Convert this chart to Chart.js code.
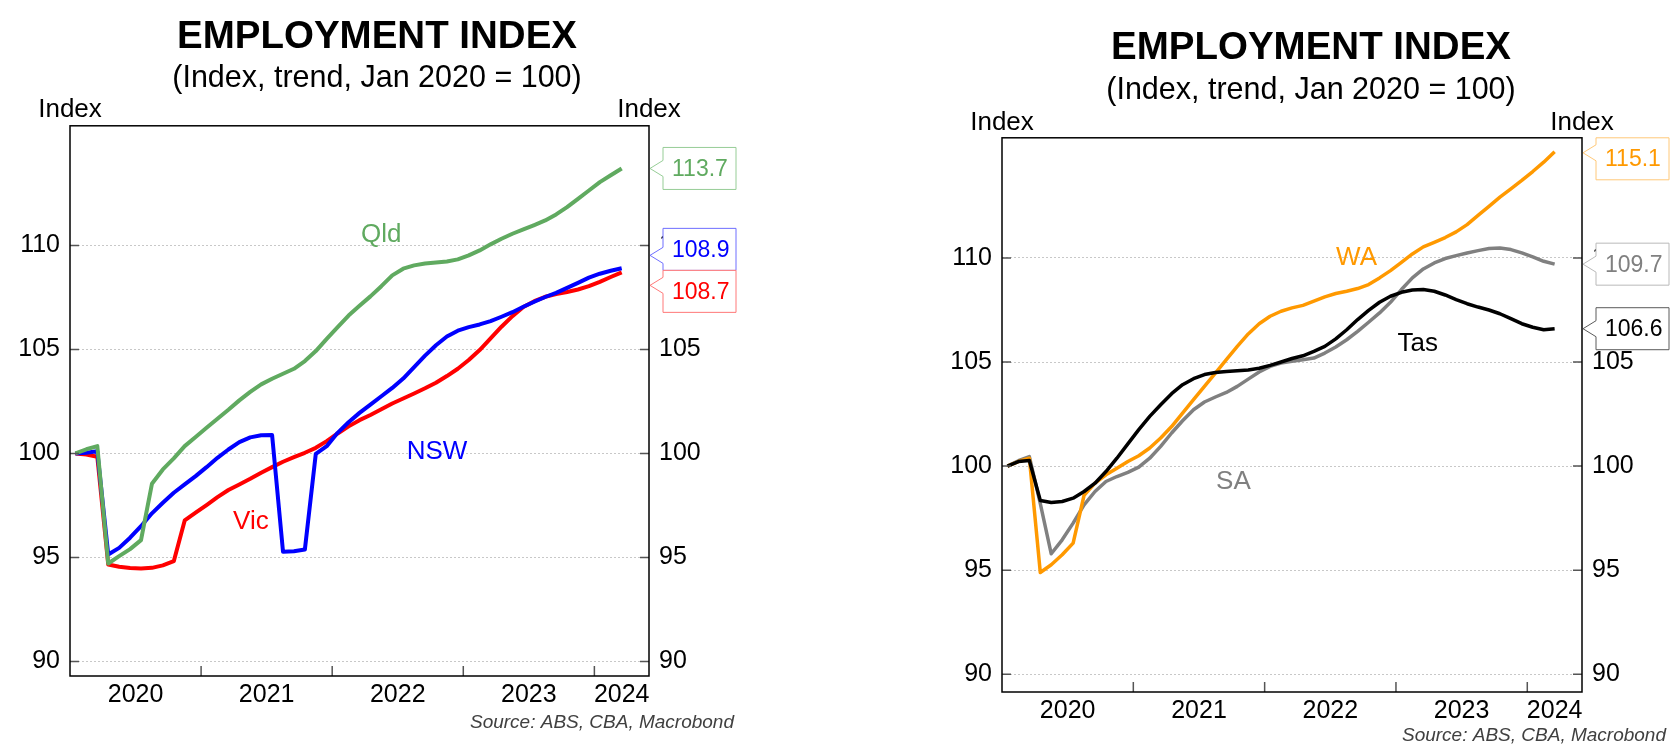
<!DOCTYPE html>
<html>
<head>
<meta charset="utf-8">
<script src="https://cdn.jsdelivr.net/npm/chart.js@4.4.1/dist/chart.umd.min.js"></script>
<style>
    html, body { margin: 0; padding: 0; background: #fff; }
    body { width: 1675px; height: 749px; position: relative; overflow: hidden; }
    .panel { position: absolute; top: 0; height: 749px; }
    #left { left: 0; width: 754px; }
    #right { left: 947px; width: 728px; }
</style>
</head>
<body>
<div class="panel" id="left"><canvas id="chartLeft"></canvas></div>
<div class="panel" id="right"><canvas id="chartRight"></canvas></div>
<script>
(function () {
    "use strict";

    var FONT = "'Liberation Sans', Arial, sans-serif";

    // Monthly, Jan 2020 - Mar 2024
    var monthNames = ['Jan', 'Feb', 'Mar', 'Apr', 'May', 'Jun', 'Jul', 'Aug', 'Sep', 'Oct', 'Nov', 'Dec'];
    var months = [];
    for (var k = 0; k < 51; k++) {
        months.push(monthNames[k % 12] + ' ' + (2020 + Math.floor(k / 12)));
    }
    var yearLabels = ['2020', '2021', '2022', '2023', '2024'];
    var yTicks = [90, 95, 100, 105, 110];

    // Left chart
    var qld = [100.0, 100.2, 100.35, 94.71, 95.06, 95.4, 95.83, 98.54, 99.23, 99.76,
        100.35, 100.79, 101.23, 101.67, 102.1, 102.55, 102.96, 103.32, 103.59, 103.83,
        104.07, 104.44, 104.92, 105.51, 106.07, 106.63, 107.1, 107.55, 108.04, 108.56,
        108.88, 109.04, 109.13, 109.18, 109.23, 109.33, 109.52, 109.76, 110.05, 110.32,
        110.56, 110.77, 110.98, 111.2, 111.49, 111.84, 112.24, 112.64, 113.04, 113.37, 113.7];
    var nsw = [100.0, 100.03, 100.1, 95.14, 95.46, 95.95, 96.5, 97.12, 97.63, 98.11,
        98.51, 98.91, 99.34, 99.79, 100.19, 100.54, 100.77, 100.87, 100.88, 95.27,
        95.3, 95.38, 99.98, 100.35, 100.99, 101.5, 101.95, 102.35, 102.75, 103.15,
        103.6, 104.15, 104.7, 105.2, 105.62, 105.9, 106.07, 106.2, 106.36, 106.57,
        106.79, 107.05, 107.29, 107.52, 107.72, 107.96, 108.2, 108.45, 108.64, 108.78, 108.9];
    var vic = [100.0, 99.95, 99.84, 94.66, 94.55, 94.49, 94.47, 94.5, 94.62, 94.82,
        96.78, 97.15, 97.52, 97.9, 98.24, 98.51, 98.78, 99.07, 99.34, 99.6,
        99.82, 100.03, 100.27, 100.59, 100.96, 101.3, 101.6, 101.85, 102.12, 102.4,
        102.64, 102.88, 103.13, 103.4, 103.72, 104.07, 104.49, 104.97, 105.53, 106.09,
        106.6, 107.04, 107.32, 107.53, 107.66, 107.76, 107.88, 108.04, 108.25, 108.48, 108.7];

    // Right chart
    var wa = [100.0, 100.22, 100.38, 94.89, 95.26, 95.74, 96.3, 98.6, 99.18, 99.58,
        99.9, 100.22, 100.5, 100.87, 101.35, 101.9, 102.55, 103.19, 103.83, 104.47,
        105.11, 105.75, 106.35, 106.84, 107.2, 107.44, 107.6, 107.72, 107.92, 108.13,
        108.29, 108.4, 108.53, 108.72, 109.04, 109.39, 109.79, 110.19, 110.53, 110.75,
        110.98, 111.25, 111.6, 112.04, 112.48, 112.92, 113.32, 113.72, 114.15, 114.6, 115.1];
    var sa = [100.0, 100.26, 100.46, 98.2, 95.79, 96.46, 97.26, 98.14, 98.78, 99.26,
        99.5, 99.7, 99.95, 100.38, 100.95, 101.59, 102.18, 102.71, 103.08, 103.32,
        103.54, 103.83, 104.18, 104.52, 104.79, 104.95, 105.04, 105.11, 105.19, 105.43,
        105.72, 106.07, 106.47, 106.91, 107.36, 107.87, 108.48, 109.04, 109.47, 109.76,
        109.97, 110.11, 110.24, 110.35, 110.45, 110.48, 110.4, 110.24, 110.05, 109.84, 109.7];
    var tas = [100.0, 100.22, 100.27, 98.35, 98.25, 98.3, 98.46, 98.78, 99.18, 99.74,
        100.38, 101.07, 101.75, 102.39, 102.95, 103.48, 103.91, 104.2, 104.4, 104.5,
        104.55, 104.58, 104.62, 104.7, 104.84, 105.0, 105.17, 105.3, 105.51, 105.75,
        106.11, 106.55, 107.04, 107.48, 107.87, 108.16, 108.35, 108.46, 108.48, 108.4,
        108.22, 108.0, 107.8, 107.64, 107.5, 107.32, 107.08, 106.84, 106.67, 106.55, 106.6];

    var xMax = 53; // months from Jan 2020 to the right edge of the frame

    // Pointer boxes with the latest value, pushed apart when they collide
    var layoutBoxes = function (items, top, bottom, h) {
        items.sort(function (p, q) { return p.vy - q.vy; });
        var groups = items.map(function (it) { return {items: [it], center: it.vy}; });
        var merged = true;
        while (merged) {
            merged = false;
            for (var i = 0; i < groups.length - 1; i++) {
                var g1 = groups[i], g2 = groups[i + 1];
                if (g1.center + g1.items.length * h / 2 > g2.center - g2.items.length * h / 2) {
                    var all = g1.items.concat(g2.items);
                    var c = all.reduce(function (s, it) { return s + it.vy; }, 0) / all.length;
                    groups.splice(i, 2, {items: all, center: c});
                    merged = true;
                    break;
                }
            }
        }
        groups.forEach(function (g) {
            var total = g.items.length * h;
            var t = Math.max(top, Math.min(bottom - total, g.center - total / 2));
            g.items.forEach(function (it, n) { it.top = t + n * h; });
        });
    };

    var makeDeco = function (cfg) {
        return {
            id: 'deco',
            afterDraw: function (chart) {
                var ctx = chart.ctx, a = chart.chartArea;
                var xs = chart.scales.x, ys = chart.scales.y;
                ctx.save();

                // tick marks inside the frame
                ctx.strokeStyle = '#555';
                ctx.lineWidth = 1.5;
                ctx.beginPath();
                for (var yr = 1; yr < yearLabels.length; yr++) {
                    var px = xs.getPixelForValue(yr * 12);
                    ctx.moveTo(px, a.bottom);
                    ctx.lineTo(px, a.bottom - 10);
                }
                yTicks.forEach(function (v) {
                    var py = ys.getPixelForValue(v);
                    ctx.moveTo(a.left, py);
                    ctx.lineTo(a.left + 9, py);
                    ctx.moveTo(a.right, py);
                    ctx.lineTo(a.right - 9, py);
                });
                ctx.stroke();

                // frame
                ctx.strokeStyle = '#000';
                ctx.lineWidth = 1.5;
                ctx.strokeRect(a.left, a.top, a.right - a.left, a.bottom - a.top);

                // unit labels
                ctx.font = '26px ' + FONT;
                ctx.textAlign = 'center';
                ctx.textBaseline = 'middle';
                ctx.fillStyle = '#000';
                ctx.fillText('Index', a.left, cfg.unitY);
                ctx.fillText('Index', a.right, cfg.unitY);

                // series names
                cfg.series.forEach(function (s) {
                    ctx.fillStyle = s.color;
                    ctx.fillText(s.name, xs.getPixelForValue(s.labelAt[0]), ys.getPixelForValue(s.labelAt[1]));
                });

                // last value boxes
                var h = 42, w = 73;
                var items = cfg.series.map(function (s) {
                    var last = s.values[s.values.length - 1];
                    return {s: s, text: last.toFixed(1), vy: ys.getPixelForValue(last)};
                });
                layoutBoxes(items, a.top, a.bottom, h);
                var tipX = a.right + 1, bx = a.right + 14;
                ctx.font = '23px ' + FONT;
                ctx.textAlign = 'left';
                ctx.lineWidth = 1;
                items.forEach(function (it) {
                    var t = it.top;
                    var tipY = Math.max(t + 15, Math.min(t + h - 15, it.vy));
                    ctx.beginPath();
                    ctx.moveTo(bx, t);
                    ctx.lineTo(bx + w, t);
                    ctx.lineTo(bx + w, t + h);
                    ctx.lineTo(bx, t + h);
                    ctx.lineTo(bx, tipY + 8);
                    ctx.lineTo(tipX, tipY);
                    ctx.lineTo(bx, tipY - 8);
                    ctx.closePath();
                    ctx.fillStyle = '#fff';
                    ctx.fill();
                    ctx.strokeStyle = it.s.boxColor;
                    ctx.stroke();
                    ctx.fillStyle = it.s.color;
                    ctx.fillText(it.text, bx + 9, t + h / 2 + 1);
                });

                // source
                ctx.font = 'italic 19px ' + FONT;
                ctx.fillStyle = '#404040';
                ctx.textAlign = 'right';
                ctx.fillText('Source: ABS, CBA, Macrobond', cfg.sourceX, cfg.sourceY);
                ctx.restore();
            }
        };
    };

    var makeChart = function (canvasId, cfg) {
        var tickFont = {family: FONT, size: 25};
        var yAxis = function (pos, width) {
            return {
                type: 'linear',
                axis: 'y',
                position: pos,
                min: cfg.yMin,
                max: cfg.yMax,
                afterBuildTicks: function (scale) {
                    scale.ticks = yTicks.map(function (v) { return {value: v}; });
                },
                afterFit: function (scale) { scale.width = width; },
                ticks: {font: tickFont, color: '#000', padding: 10},
                grid: {display: pos === 'left', drawOnChartArea: pos === 'left', color: '#c8c8c8', lineWidth: 1, drawTicks: false},
                border: {display: false, dash: [2, 2]}
            };
        };

        return new Chart(document.getElementById(canvasId), {
            type: 'line',
            data: {
                datasets: cfg.series.map(function (s) {
                    return {
                        label: s.name,
                        data: months.map(function (m, i) { return {x: i + 0.5, y: s.values[i]}; }),
                        borderColor: s.color,
                        borderWidth: cfg.lineWidth,
                        borderJoinStyle: 'round',
                        pointRadius: 0,
                        tension: 0,
                        fill: false,
                        xAxisID: 'x',
                        yAxisID: 'y'
                    };
                })
            },
            options: {
                responsive: true,
                maintainAspectRatio: false,
                animation: false,
                layout: {padding: {left: 0, right: 0, top: 0, bottom: cfg.bottomPad}},
                plugins: {
                    legend: {display: false},
                    tooltip: {enabled: false},
                    title: {
                        display: true,
                        text: 'EMPLOYMENT INDEX',
                        color: '#000',
                        font: {family: FONT, size: 38.5, weight: 'bold'},
                        padding: {top: cfg.titleTop, bottom: 0}
                    },
                    subtitle: {
                        display: true,
                        text: '(Index, trend, Jan 2020 = 100)',
                        color: '#000',
                        font: {family: FONT, size: 30.5},
                        padding: {top: cfg.subTop, bottom: 29}
                    }
                },
                scales: {
                    x: {
                        type: 'linear',
                        min: 0,
                        max: xMax,
                        afterBuildTicks: function (scale) {
                            scale.ticks = yearLabels.map(function (s, n) {
                                return {value: (12 * n + Math.min(12 * n + 12, xMax)) / 2};
                            });
                        },
                        afterFit: function (scale) { scale.height = 40; },
                        ticks: {
                            font: tickFont,
                            color: '#000',
                            padding: 4,
                            maxRotation: 0,
                            autoSkip: false,
                            callback: function (v, i) { return yearLabels[i]; }
                        },
                        grid: {display: false, drawTicks: false},
                        border: {display: false}
                    },
                    y: yAxis('left', cfg.leftW),
                    y2: yAxis('right', cfg.rightW)
                }
            },
            plugins: [makeDeco(cfg)]
        });
    };

    makeChart('chartLeft', {
        series: [
            {name: 'Qld', values: qld, color: 'rgb(96,170,96)', boxColor: 'rgb(150,205,150)', labelAt: [28.5, 110.5]},
            {name: 'NSW', values: nsw, color: '#0000ff', boxColor: 'rgb(110,110,255)', labelAt: [33.6, 100.1]},
            {name: 'Vic', values: vic, color: '#ff0000', boxColor: 'rgb(255,120,120)', labelAt: [16.56, 96.72]}
        ],
        yMin: 89.3, yMax: 115.75,
        lineWidth: 4,
        leftW: 70, rightW: 105,
        titleTop: 14, subTop: 0, bottomPad: 33,
        unitY: 110, sourceX: 734, sourceY: 723
    });

    makeChart('chartRight', {
        series: [
            {name: 'Tas', values: tas, color: '#000000', boxColor: 'rgb(90,90,90)', labelAt: [38.0, 105.85]},
            {name: 'WA', values: wa, color: 'rgb(255,153,0)', boxColor: 'rgb(255,200,120)', labelAt: [32.4, 110.0]},
            {name: 'SA', values: sa, color: 'rgb(128,128,128)', boxColor: 'rgb(185,185,185)', labelAt: [21.15, 99.25]}
        ],
        yMin: 89.15, yMax: 115.77,
        lineWidth: 3.5,
        leftW: 55, rightW: 93,
        titleTop: 25, subTop: 1, bottomPad: 17,
        unitY: 123, sourceX: 719, sourceY: 736
    });
})();
</script>
</body>
</html>
